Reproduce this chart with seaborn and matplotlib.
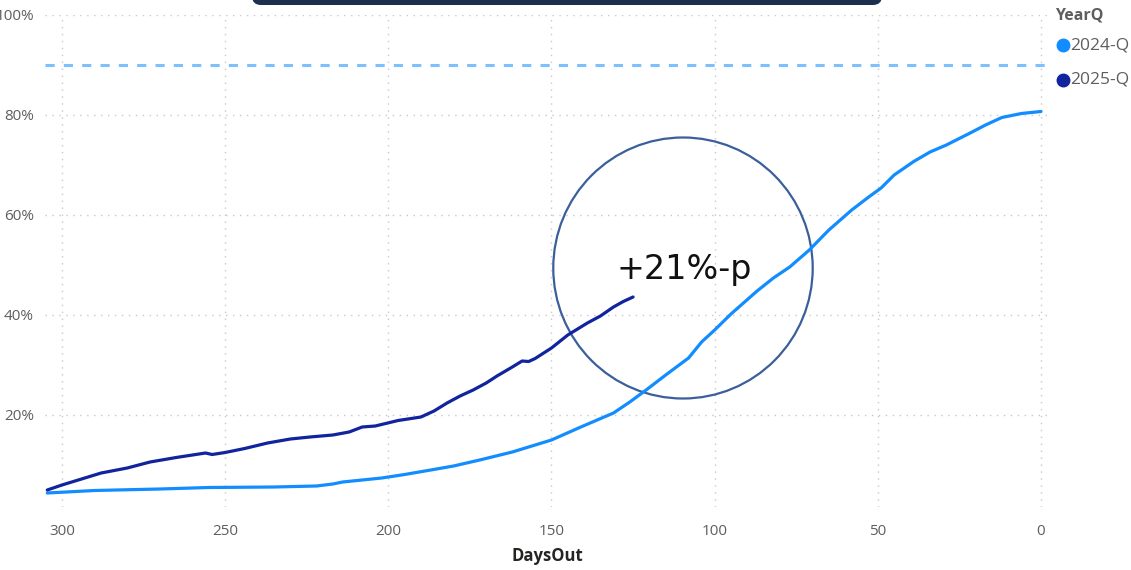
import numpy as np
import pandas as pd
import matplotlib
matplotlib.use("Agg")
import matplotlib.pyplot as plt
import seaborn as sns
from matplotlib.patches import Ellipse, FancyBboxPatch
from matplotlib.lines import Line2D
from matplotlib.ticker import PercentFormatter

# ---- data ----
days_2024 = [304.5, 290, 270, 255, 235, 222, 217, 214, 208, 202, 195, 187, 180, 172, 162,
             150, 141, 131, 126, 121, 115, 108, 104, 100, 95, 87, 82, 77, 71, 65,
             58, 53, 49, 45, 39, 34, 29, 22, 17, 12, 6, 0]
vals_2024 = [4.4, 4.9, 5.2, 5.5, 5.6, 5.8, 6.2, 6.6, 7.0, 7.4, 8.1, 9.0, 9.8, 11.0, 12.6,
             15.0, 17.6, 20.4, 22.6, 25.0, 28.0, 31.4, 34.6, 37.0, 40.2, 44.8, 47.4, 49.6, 53.0, 57.0,
             61.0, 63.5, 65.4, 68.0, 70.7, 72.6, 74.0, 76.3, 78.0, 79.5, 80.3, 80.7]

days_2025 = [304.5, 300, 295, 288, 280, 273, 265, 258, 256, 254, 250, 244, 237, 230, 224,
             217, 212, 208, 204, 197, 190, 186, 182, 178, 174, 170, 166.7, 162, 159, 157,
             155, 150, 145, 139, 135, 131, 128, 125]
vals_2025 = [5.0, 6.0, 7.0, 8.4, 9.4, 10.6, 11.5, 12.2, 12.4, 12.1, 12.5, 13.3, 14.4, 15.2, 15.6,
             16.0, 16.6, 17.6, 17.8, 18.9, 19.6, 20.8, 22.4, 23.8, 25.0, 26.4, 27.8, 29.6, 30.8, 30.7,
             31.3, 33.4, 36.0, 38.4, 39.8, 41.6, 42.7, 43.6]

series_names = ["2024-Q", "2025-Q"]
colors = ["#118DFF", "#12239E"]
target_value = 90
annotation_text = "+21%-p"
x_ticks = [300, 250, 200, 150, 100, 50, 0]
y_ticks = [20, 40, 60, 80, 100]

df = pd.concat([
    pd.DataFrame({"DaysOut": days_2024, "Value": np.array(vals_2024) / 100, "YearQ": series_names[0]}),
    pd.DataFrame({"DaysOut": days_2025, "Value": np.array(vals_2025) / 100, "YearQ": series_names[1]}),
])

sns.set_theme(style="white")
plt.rcParams["font.family"] = ["Open Sans", "DejaVu Sans"]

W, H = 1131, 570
fig = plt.figure(figsize=(W / 100, H / 100), dpi=100)
ax = fig.add_axes([45 / W, 1 - 507 / H, (1050 - 45) / W, (507 - 15) / H])

sns.lineplot(data=df, x="DaysOut", y="Value", hue="YearQ", palette=colors,
             linewidth=2.3, ax=ax, legend=False, estimator=None, sort=False)

ax.axhline(target_value / 100, color="#7CC0FF", linestyle=(0, (3, 3)), linewidth=2.2,
           clip_on=False, xmax=1.003)

ax.set_xlim(305.2, -2.76)
ax.set_ylim(0.016, 1.0)
ax.set_xticks(x_ticks)
ax.set_yticks([v / 100 for v in y_ticks])
ax.yaxis.set_major_formatter(PercentFormatter(1.0, decimals=0))
ax.grid(True, color="#C8C8C8", linestyle=(0, (1, 4)), linewidth=1.0)
for s in ax.spines.values():
    s.set_visible(False)
ax.tick_params(axis="both", length=0, labelsize=11, labelcolor="#605E5C")
ax.tick_params(axis="x", pad=12)
ax.tick_params(axis="y", pad=8)
ax.set_xlabel("DaysOut", fontsize=12, fontweight="bold", color="#252423", labelpad=6)
ax.set_ylabel("")

# annotation circle
ax.add_patch(Ellipse((109.7, 0.494), width=79.5, height=0.522, fill=False,
                     edgecolor="#3A5F9A", linewidth=1.6, clip_on=False))
ax.text(109.4, 0.49, annotation_text, fontsize=24, color="#111111",
        ha="center", va="center", family=["DejaVu Sans"])

# top dark bar
fig.patches.append(FancyBboxPatch((2.52, 5.65), 6.30, 0.4,
                                  boxstyle="round,pad=0,rounding_size=0.09",
                                  transform=fig.dpi_scale_trans, facecolor="#1B2F4E",
                                  edgecolor="none", figure=fig))

# legend
fig.text(1055 / W, 1 - 16 / H, "YearQ", fontsize=11.5, fontweight="bold",
         color="#605E5C", ha="left", va="center")
for i, (name, c) in enumerate(zip(series_names, colors)):
    yy = 1 - (45 + 35 * i) / H
    fig.lines.append(Line2D([1063 / W], [yy], marker="o", markersize=9, color=c,
                            linestyle="none", transform=fig.transFigure))
    fig.text(1070 / W, yy, name, fontsize=12.5, color="#605E5C", ha="left", va="center")

fig.savefig("out.png", dpi=100)
